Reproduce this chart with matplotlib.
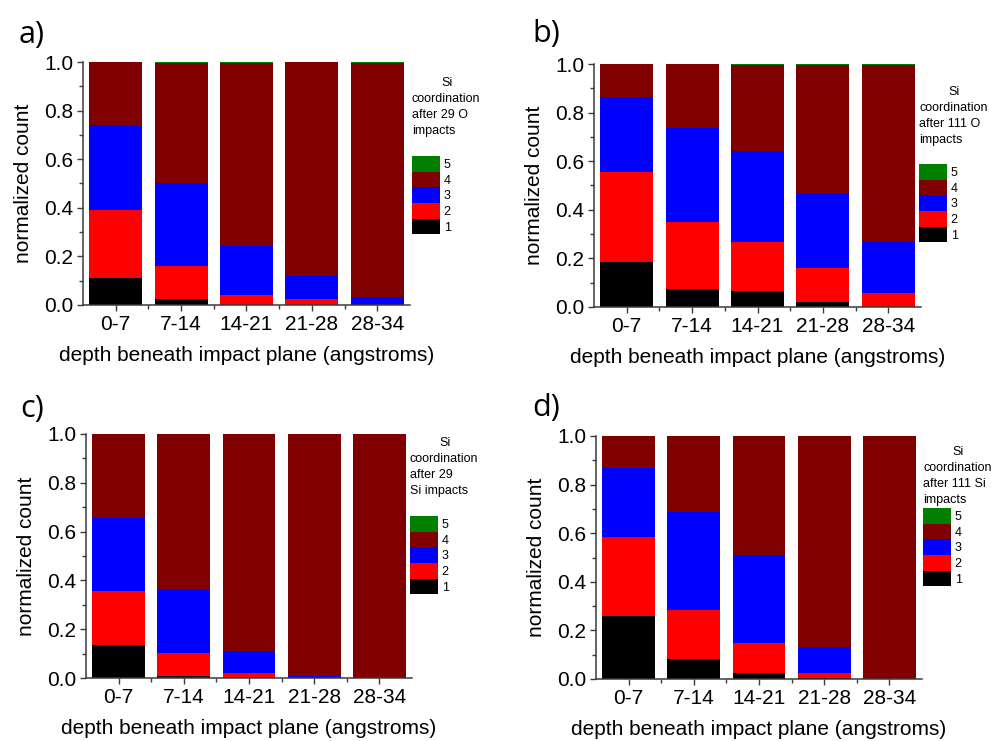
import matplotlib
matplotlib.use('Agg')
import matplotlib.pyplot as plt
from matplotlib.ticker import MultipleLocator, FixedLocator, FormatStrFormatter
import numpy as np

plt.rcParams['font.family'] = ['Liberation Sans', 'DejaVu Sans']

categories = ['0-7', '7-14', '14-21', '21-28', '28-34']
coordinations = ['1', '2', '3', '4', '5']
colors = ['#000000', '#ff0000', '#0000ff', '#800000', '#008000']
panel_labels = ['a)', 'b)', 'c)', 'd)']
legend_titles = [
    ['coordination', 'after 29 O', 'impacts'],
    ['coordination', 'after 111 O', 'impacts'],
    ['coordination', 'after 29', 'Si impacts'],
    ['coordination', 'after 111 Si', 'impacts'],
]
xlabel = 'depth beneath impact plane (angstroms)'
ylabel = 'normalized count'

# rows: coordination 1..5, columns: depth categories
a_counts = [
    [0.112, 0.025, 0.000, 0.000, 0.000],
    [0.281, 0.135, 0.041, 0.026, 0.002],
    [0.349, 0.343, 0.201, 0.099, 0.031],
    [0.258, 0.494, 0.755, 0.875, 0.964],
    [0.000, 0.003, 0.003, 0.000, 0.003],
]
b_counts = [
    [0.187, 0.075, 0.064, 0.021, 0.000],
    [0.367, 0.276, 0.202, 0.138, 0.056],
    [0.312, 0.387, 0.375, 0.310, 0.210],
    [0.134, 0.262, 0.355, 0.527, 0.730],
    [0.000, 0.000, 0.004, 0.004, 0.004],
]
c_counts = [
    [0.134, 0.010, 0.000, 0.000, 0.000],
    [0.223, 0.094, 0.022, 0.000, 0.000],
    [0.300, 0.260, 0.087, 0.008, 0.000],
    [0.343, 0.636, 0.891, 0.992, 1.000],
    [0.000, 0.000, 0.000, 0.000, 0.000],
]
d_counts = [
    [0.261, 0.083, 0.026, 0.003, 0.000],
    [0.323, 0.203, 0.124, 0.023, 0.000],
    [0.285, 0.401, 0.360, 0.104, 0.000],
    [0.131, 0.313, 0.490, 0.870, 1.000],
    [0.000, 0.000, 0.000, 0.000, 0.000],
]
panels = [a_counts, b_counts, c_counts, d_counts]

W, H = 993, 741
fig = plt.figure(figsize=(W / 100, H / 100), dpi=100)

# pixel layout: axes (left, top, right, bottom), title x, title first line y, patch top y, label pos
layout = [
    dict(ax=(83, 62, 410, 305), tx=412, ty=83, pt=156, lab=(19, 43)),
    dict(ax=(594, 64, 921, 307), tx=919, ty=92, pt=164, lab=(532, 42)),
    dict(ax=(86, 434, 412, 678), tx=410, ty=443, pt=516, lab=(20, 417)),
    dict(ax=(596, 436, 922, 679), tx=923, ty=452, pt=508, lab=(532, 416)),
]

def fx(px):
    return px / W

def fy(py):
    return 1 - py / H

spine_col = '#3a3a3a'
for i, counts in enumerate(panels):
    L = layout[i]
    l, t, r, b = L['ax']
    ax = fig.add_axes([fx(l), fy(b), (r - l) / W, (b - t) / H])
    x = np.arange(len(categories))
    bottom = np.zeros(len(categories))
    handles = []
    for k, vals in enumerate(counts):
        vals = np.array(vals)
        h = ax.bar(x, vals, width=0.81, bottom=bottom, color=colors[k],
                   edgecolor='none', label=coordinations[k])
        bottom = bottom + vals
        handles.append(h)
    ax.set_xlim(-0.5, len(categories) - 0.5)
    ax.set_ylim(0, 1.0)
    ax.set_xticks(x)
    ax.set_xticklabels(categories)
    ax.xaxis.set_minor_locator(FixedLocator(np.arange(0.5, len(categories) - 0.5, 1)))
    ax.yaxis.set_major_locator(MultipleLocator(0.2))
    ax.yaxis.set_minor_locator(MultipleLocator(0.1))
    ax.yaxis.set_major_formatter(FormatStrFormatter('%.1f'))
    for s in ['top', 'right']:
        ax.spines[s].set_visible(False)
    for s in ['left', 'bottom']:
        ax.spines[s].set_color(spine_col)
        ax.spines[s].set_linewidth(1.1)
    ax.tick_params(axis='both', which='major', direction='out', length=4, width=1.0,
                   colors=spine_col, labelcolor='black', labelsize=15)
    ax.tick_params(axis='both', which='minor', direction='out', length=3, width=1.0,
                   colors=spine_col)
    ax.tick_params(axis='x', which='major', pad=3)
    ax.tick_params(axis='y', which='major', pad=3)
    ax.set_xlabel(xlabel, fontsize=15)
    ax.set_ylabel(ylabel, fontsize=15)
    ax.yaxis.set_label_coords(-0.152, 0.5)
    ax.xaxis.set_label_coords(0.5, -0.17)

    # legend title
    tx, ty = L['tx'], L['ty']
    fig.text(fx(tx + 35), fy(ty), 'Si', ha='center', va='center', fontsize=9)
    for j, line in enumerate(legend_titles[i]):
        fig.text(fx(tx), fy(ty + 16 * (j + 1)), line, ha='left', va='center', fontsize=9)
    ax.legend(handles[::-1], coordinations[::-1], loc='upper left',
              bbox_to_anchor=(fx(tx), fy(L['pt'])), bbox_transform=fig.transFigure,
              frameon=False, borderpad=0, borderaxespad=0, handlelength=2.24,
              handleheight=1.55, labelspacing=0, handletextpad=0.3, fontsize=9)

    lx, ly = L['lab']
    fig.text(fx(lx), fy(ly), panel_labels[i], ha='left', va='baseline',
             fontsize=22, family=['Open Sans', 'DejaVu Sans'])

fig.savefig('out.png', dpi=100)
